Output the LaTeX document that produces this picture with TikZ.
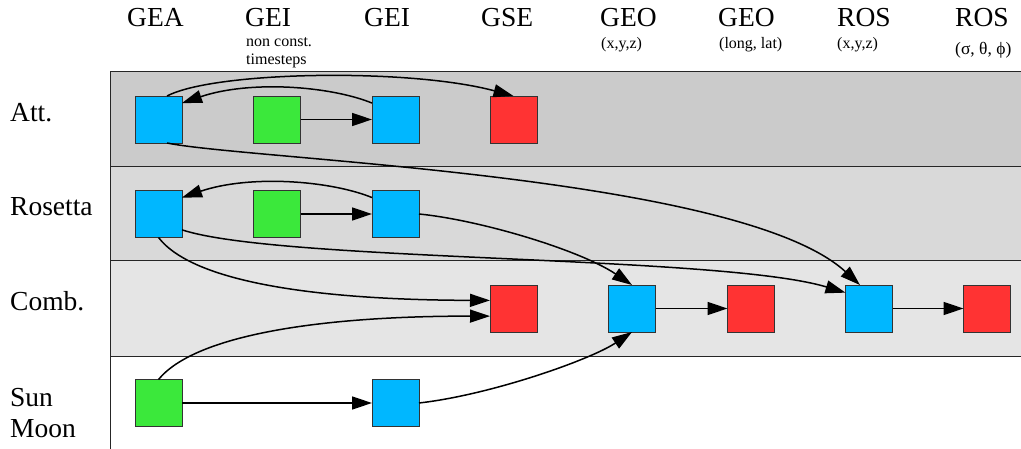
\documentclass[tikz,border=0pt]{standalone}
\usepackage{fontspec}
\setmainfont{Liberation Serif}
\usetikzlibrary{arrows.meta}
\definecolor{boxblue}{HTML}{00B7FF}
\definecolor{boxgreen}{HTML}{3BE83B}
\definecolor{boxred}{HTML}{FF3333}
\definecolor{boxline}{HTML}{333333}
\definecolor{bandA}{HTML}{CBCBCB}
\definecolor{bandB}{HTML}{D9D9D9}
\definecolor{bandC}{HTML}{E5E5E5}
\begin{document}
\begin{tikzpicture}[x=1pt,y=-1pt,
  box/.style={draw=boxline, line width=0.9pt, minimum size=47pt, inner sep=0pt, outer sep=0pt},
  bbox/.style={box, fill=boxblue},
  gbox/.style={box, fill=boxgreen},
  rbox/.style={box, fill=boxred},
  conn/.style={line width=1.5pt, -{Triangle[length=20pt,width=13pt]}},
  head/.style={font=\fontsize{27.5}{30}\selectfont, anchor=base west, inner sep=0pt},
  sub/.style={font=\fontsize{16}{18}\selectfont, anchor=base west, inner sep=0pt},
  lab/.style={font=\fontsize{27.5}{30}\selectfont, anchor=base west, inner sep=0pt},
  bandline/.style={draw=black!85, line width=1pt}]
\useasboundingbox (0,0) rectangle (1021,449);
% bands
\fill[bandA] (110,72) rectangle (1025,167);
\fill[bandB] (110,167) rectangle (1025,261);
\fill[bandC] (110,261) rectangle (1025,356);
\draw[bandline] (1025,72) -- (110,72) -- (110,449);
\draw[bandline] (110,167) -- (1025,167);
\draw[bandline] (110,261) -- (1025,261);
\draw[bandline] (110,356) -- (1025,356);
% headers
\node[head] (h1) at (127,27) {GEA};
\node[head] (h2) at (245,27) {GEI};
\node[sub] (s2a) at (246,47) {non const.};
\node[sub] (s2b) at (246,65) {timesteps};
\node[head] (h3) at (364,27) {GEI};
\node[head] (h4) at (481,27) {GSE};
\node[head] (h5) at (600,27) {GEO};
\node[sub] (s5) at (601,49) {(x,y,z)};
\node[head] (h6) at (718,27) {GEO};
\node[sub] (s6) at (719,49) {(long, lat)};
\node[head] (h7) at (837,27) {ROS};
\node[sub] (s7) at (837,49) {(x,y,z)};
\node[head] (h8) at (955,27) {ROS};
\node[sub, font=\fontsize{17.5}{20}\selectfont] (s8) at (955,55) {(σ, θ, ϕ)};
% row labels
\node[lab] (lA) at (10,122) {Att.};
\node[lab] (lR) at (10,216) {Rosetta};
\node[lab] (lC) at (10,311) {Comb.};
\node[lab] (lS1) at (10,406) {Sun};
\node[lab] (lS2) at (10,437) {Moon};
% boxes
\node[bbox] (A1) at (158.5,119.5) {};
\node[gbox] (A2) at (277,119.5) {};
\node[bbox] (A3) at (395.5,119.5) {};
\node[rbox] (A4) at (513.5,119.5) {};
\node[bbox] (R1) at (158.5,214) {};
\node[gbox] (R2) at (277,214) {};
\node[bbox] (R3) at (395.5,214) {};
\node[rbox] (C4) at (513.5,308.5) {};
\node[bbox] (C5) at (632,308.5) {};
\node[rbox] (C6) at (751,308.5) {};
\node[bbox] (C7) at (869,308.5) {};
\node[rbox] (C8) at (987,308.5) {};
\node[gbox] (S1) at (158.5,403) {};
\node[bbox] (S3) at (395.5,403) {};
% straight connectors
\draw[conn] (A2.east) -- (A3.west);
\draw[conn] (R2.east) -- (R3.west);
\draw[conn] (S1.east) -- (S3.west);
\draw[conn] (C5.east) -- (C6.west);
\draw[conn] (C7.east) -- (C8.west);
% curved connectors
\draw[conn] (A3.145) .. controls (330,86) and (250,80) .. (A1.35);
\draw[conn] (R3.145) .. controls (330,180.5) and (250,174.5) .. (R1.35);
\draw[conn] (A1.70) .. controls (215,71) and (410,68) .. (A4.north);
\draw[conn] (A1.-70) .. controls (250,160) and (740,175) .. (C7.111);
\draw[conn] (R3.east) .. controls (480,220) and (580,250) .. (C5.north);
\draw[conn] (R1.-34) .. controls (280,262) and (720,255) .. (C7.146);
\draw[conn] (R1.south) .. controls (195,285) and (330,300) .. (C4.161);
\draw[conn] (S1.north) .. controls (195,335) and (320,316) .. (C4.-162);
\draw[conn] (S3.east) .. controls (490,395) and (590,360) .. (C5.south);
\end{tikzpicture}
\end{document}
